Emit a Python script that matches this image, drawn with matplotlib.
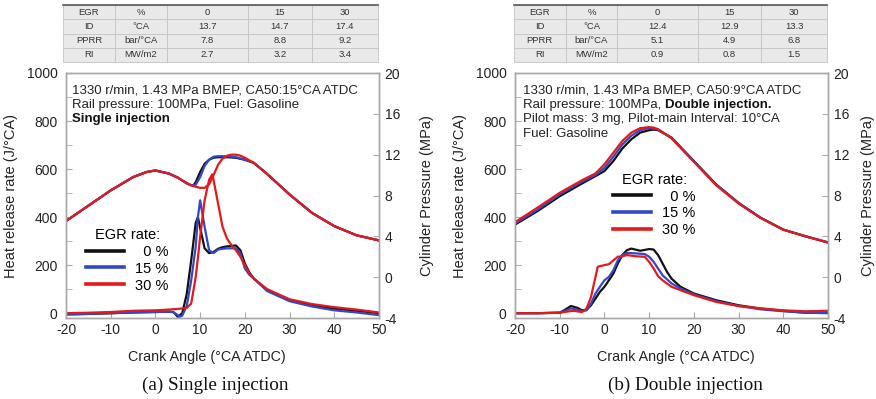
import matplotlib
matplotlib.use("Agg")
import matplotlib.pyplot as plt
from matplotlib.ticker import MultipleLocator

plt.rcParams['font.family'] = ['Liberation Sans', 'DejaVu Sans']
plt.rcParams['axes.unicode_minus'] = False

egr_labels = ['  0 %', '15 %', '30 %']
colors = ['#111111', '#3347c8', '#e3191c']

# tables above each panel
table_a = [['EGR', '%', '0', '15', '30'],
           ['ID', '°CA', '13.7', '14.7', '17.4'],
           ['PPRR', 'bar/°CA', '7.8', '8.8', '9.2'],
           ['RI', 'MW/m2', '2.7', '3.2', '3.4']]
table_b = [['EGR', '%', '0', '15', '30'],
           ['ID', '°CA', '12.4', '12.9', '13.3'],
           ['PPRR', 'bar/°CA', '5.1', '4.9', '6.8'],
           ['RI', 'MW/m2', '0.9', '0.8', '1.5']]

## (a) single injection - heat release rate
a_hrr_x0 = [-20, -15, -10, -5, 0, 3, 4, 5, 6, 7, 8, 9, 9.5, 10, 11, 12, 13, 14, 15, 16, 17, 18, 19, 20, 21, 22, 25, 30, 35, 40, 45, 50]
a_hrr_0 = [-5, -3, 0, 3, 5, 6, 5, -15, 0, 80, 220, 375, 400, 355, 270, 250, 255, 268, 275, 278, 280, 282, 262, 207, 170, 144, 96, 54, 33, 19, 10, 0]
a_hrr_x15 = [-20, -15, -10, -5, 0, 3, 4, 5, 5.5, 6, 7, 8, 9, 9.5, 10, 11, 12, 13, 14, 15, 16, 17, 18, 19, 20, 21, 22, 25, 30, 35, 40, 45, 50]
a_hrr_15 = [-5, -3, 0, 3, 5, 6, 4, -8, -15, -10, 30, 137, 276, 400, 470, 360, 262, 250, 265, 268, 270, 270, 270, 249, 186, 160, 144, 92, 50, 28, 12, 3, -8]
a_hrr_x30 = [-20, -15, -10, -5, 0, 3, 5, 6, 7, 8, 9, 9.5, 10, 11, 12, 12.7, 13, 14, 15, 16, 17, 18, 19, 20, 21, 22, 25, 30, 35, 40, 45, 50]
a_hrr_30 = [0, 2, 5, 10, 12, 15, 18, 20, 22, 40, 150, 230, 318, 470, 555, 578, 555, 457, 360, 311, 283, 262, 235, 200, 165, 144, 100, 58, 38, 25, 15, 3]

## (a) single injection - cylinder pressure
a_p_x0 = [-20, -15, -10, -5, -2, 0, 3, 5, 7, 8, 8.5, 9, 10, 11, 12, 13, 14, 16, 18, 20, 22, 25, 30, 35, 40, 45, 50]
a_p_0 = [5.5, 7.0, 8.5, 9.8, 10.3, 10.45, 10.15, 9.75, 9.2, 9.0, 9.0, 9.3, 10.3, 11.1, 11.5, 11.7, 11.75, 11.75, 11.7, 11.5, 11.2, 10.1, 8.1, 6.3, 5.0, 4.1, 3.6]
a_p_x15 = [-20, -15, -10, -5, -2, 0, 3, 5, 7, 8, 9, 10, 11, 12, 13, 14, 16, 18, 20, 22, 25, 30, 35, 40, 45, 50]
a_p_15 = [5.5, 7.0, 8.5, 9.8, 10.3, 10.45, 10.15, 9.75, 9.2, 9.0, 9.05, 9.8, 10.9, 11.5, 11.8, 11.85, 11.85, 11.75, 11.5, 11.2, 10.1, 8.1, 6.3, 5.0, 4.1, 3.6]
a_p_x30 = [-20, -15, -10, -5, -2, 0, 3, 5, 7, 8, 9, 10, 11, 12, 13, 14, 15, 16, 17, 18, 19, 20, 22, 25, 30, 35, 40, 45, 50]
a_p_30 = [5.5, 7.0, 8.5, 9.8, 10.3, 10.45, 10.15, 9.75, 9.2, 9.0, 8.85, 8.75, 8.75, 9.1, 10.0, 11.0, 11.6, 11.9, 12.0, 12.0, 11.9, 11.7, 11.2, 10.1, 8.1, 6.3, 5.0, 4.1, 3.6]

## (b) double injection - heat release rate
b_hrr_x0 = [-20, -15, -10, -9, -7.5, -6, -5, -4, -3, -2, -1, 0, 1, 2, 3, 4, 5, 6, 8, 10, 11, 12, 13, 14, 15, 17, 20, 25, 30, 35, 40, 45, 50]
b_hrr_0 = [0, 0, 2, 12, 30, 22, 12, 14, 33, 61, 89, 110, 137, 165, 207, 242, 262, 269, 260, 267, 265, 242, 207, 172, 144, 110, 82, 54, 33, 19, 10, 2, 2]
b_hrr_x15 = [-20, -15, -10, -9, -7.5, -6, -5, -4, -3, -2, -1, 0, 1, 2, 3, 4, 5, 7, 9, 10, 11, 12, 13, 15, 17, 20, 25, 30, 35, 40, 45, 50]
b_hrr_15 = [0, 0, 2, 8, 20, 15, 8, 12, 40, 82, 110, 137, 151, 179, 220, 242, 251, 249, 246, 235, 214, 186, 158, 124, 103, 78, 50, 30, 16, 8, 2, 0]
b_hrr_x30 = [-20, -15, -10, -9, -7, -5, -4, -3, -2, -1.5, -1, 0, 1, 2, 3, 4, 5, 7, 9, 10, 11, 12, 13, 15, 18, 20, 25, 30, 35, 40, 45, 50]
b_hrr_30 = [0, 0, 2, 5, 10, 5, 19, 68, 151, 193, 196, 200, 204, 220, 235, 237, 242, 237, 235, 214, 186, 154, 137, 110, 89, 75, 47, 30, 20, 12, 8, 10]

## (b) double injection - cylinder pressure
b_p_x = [-20, -15, -10, -5, -2, 0, 2, 4, 6, 8, 10, 11, 12, 15, 20, 25, 30, 35, 40, 45, 50]
b_p_0 = [5.15, 6.46, 7.93, 9.18, 9.9, 10.39, 11.38, 12.6, 13.5, 14.16, 14.4, 14.45, 14.4, 13.67, 11.38, 9.08, 7.28, 5.8, 4.66, 4.0, 3.4]
b_p_15 = [5.25, 6.6, 8.1, 9.35, 10.0, 10.7, 11.8, 13.0, 13.85, 14.4, 14.6, 14.55, 14.45, 13.65, 11.35, 9.05, 7.25, 5.8, 4.66, 4.0, 3.4]
b_p_30 = [5.38, 6.8, 8.26, 9.5, 10.16, 11.05, 12.2, 13.34, 14.16, 14.6, 14.7, 14.65, 14.5, 13.6, 11.3, 9.0, 7.22, 5.78, 4.64, 4.0, 3.4]


fig = plt.figure(figsize=(8.76, 3.99), dpi=100)

def make_table(rect, rows):
    tax = fig.add_axes(rect)
    tax.axis('off')
    tb = tax.table(cellText=rows, cellLoc='center', bbox=[0, 0, 1, 1],
                   colWidths=[52, 52, 81, 64, 66])
    tb.auto_set_font_size(False)
    tb.set_fontsize(6.8)
    for (r, c), cell in tb.get_celld().items():
        cell.set_facecolor('#e9e9e9')
        cell.set_edgecolor('#c4c4c4')
        cell.set_linewidth(0.6)
        cell.get_text().set_color('#333333')
    tax.plot([0, 1], [1, 1], color='#555555', lw=1.2, transform=tax.transAxes, clip_on=False)

def panel(rect, hrr, pres, xlab_x, ylab2_x):
    ax = fig.add_axes(rect)
    ax2 = ax.twinx()
    lines = []
    for (x, y), c, lab in zip(hrr, colors, egr_labels):
        ln, = ax.plot(x, y, color=c, lw=1.6, label=lab)
        lines.append(ln)
    for (x, y), c in zip(pres, colors):
        ax2.plot(x, y, color=c, lw=1.6)
    ax.set_xlim(-20, 50)
    ax.set_ylim(-20, 1000)
    ax2.set_ylim(-4, 20)
    ax.xaxis.set_major_locator(MultipleLocator(10))
    ax.yaxis.set_major_locator(MultipleLocator(200))
    ax.yaxis.set_minor_locator(MultipleLocator(100))
    ax2.yaxis.set_major_locator(MultipleLocator(4))
    for a in (ax, ax2):
        for s in a.spines.values():
            s.set_color('#a8a8a8')
            s.set_linewidth(1.0)
        a.tick_params(which='both', direction='in', length=4, color='#a8a8a8',
                      labelsize=10, labelcolor='#222222')
    ax.tick_params(axis='y', pad=6)
    ax2.tick_params(axis='y', pad=4)
    ax.set_xlabel('Crank Angle (°CA ATDC)', fontsize=10.3, color='#222222')
    ax.xaxis.set_label_coords(xlab_x, -0.13)
    ax.set_ylabel('Heat release rate (J/°CA)', fontsize=10.5, color='#222222')
    ax.yaxis.set_label_coords(-0.153, 0.5)
    ax2.set_ylabel('Cylinder Pressure (MPa)', fontsize=10.5, color='#222222')
    ax2.yaxis.set_label_coords(ylab2_x, 0.5)
    return ax, ax2, lines

# panel (a)
make_table([63 / 876, 1 - 62 / 399, 315 / 876, 57 / 399], table_a)
ax_a, ax_a2, lines_a = panel([66 / 876, 1 - 318 / 399, 313 / 876, 245 / 399],
                             [(a_hrr_x0, a_hrr_0), (a_hrr_x15, a_hrr_15), (a_hrr_x30, a_hrr_30)],
                             [(a_p_x0, a_p_0), (a_p_x15, a_p_15), (a_p_x30, a_p_30)], 0.45, 1.131)
fs = 9.5
ax_a.text(0.02, 0.955, '1330 r/min, 1.43 MPa BMEP, CA50:15°CA ATDC', transform=ax_a.transAxes,
          fontsize=fs, va='top', color='#222222')
ax_a.text(0.02, 0.895, 'Rail pressure: 100MPa, Fuel: Gasoline', transform=ax_a.transAxes,
          fontsize=fs, va='top', color='#222222')
ax_a.text(0.02, 0.835, 'Single injection', transform=ax_a.transAxes,
          fontsize=fs, va='top', fontweight='bold', color='#111111')
leg = ax_a.legend(handles=lines_a, title='EGR rate:', loc='upper left',
                  bbox_to_anchor=(0.03, 0.41), frameon=False, fontsize=10.5,
                  title_fontsize=10.5, handlelength=2.6, labelspacing=0.2,
                  handletextpad=0.8, borderpad=0.2)
for h in leg.get_lines():
    h.set_linewidth(2.6)

# panel (b)
make_table([514 / 876, 1 - 62 / 399, 313 / 876, 57 / 399], table_b)
ax_b, ax_b2, lines_b = panel([515 / 876, 1 - 318 / 399, 313 / 876, 245 / 399],
                             [(b_hrr_x0, b_hrr_0), (b_hrr_x15, b_hrr_15), (b_hrr_x30, b_hrr_30)],
                             [(b_p_x, b_p_0), (b_p_x, b_p_15), (b_p_x, b_p_30)], 0.514, 1.105)
ax_b.text(0.025, 0.955, '1330 r/min, 1.43 MPa BMEP, CA50:9°CA ATDC', transform=ax_b.transAxes,
          fontsize=fs, va='top', color='#222222')
t = ax_b.text(0.025, 0.895, 'Rail pressure: 100MPa, ', transform=ax_b.transAxes,
              fontsize=fs, va='top', color='#222222')
ax_b.annotate('Double injection.', xy=(1, 0), xycoords=t, va='bottom', ha='left',
              fontsize=fs, fontweight='bold', color='#111111')
ax_b.text(0.025, 0.835, 'Pilot mass: 3 mg, Pilot-main Interval: 10°CA', transform=ax_b.transAxes,
          fontsize=fs, va='top', color='#222222')
ax_b.text(0.025, 0.775, 'Fuel: Gasoline', transform=ax_b.transAxes,
          fontsize=fs, va='top', color='#222222')
leg = ax_b.legend(handles=lines_b, title='EGR rate:', loc='upper left',
                  bbox_to_anchor=(0.28, 0.635), frameon=False, fontsize=10.5,
                  title_fontsize=10.5, handlelength=2.6, labelspacing=0.2,
                  handletextpad=0.8, borderpad=0.2)
for h in leg.get_lines():
    h.set_linewidth(2.6)

fig.text(215 / 876, 1 - 385 / 399, '(a) Single injection', family='Liberation Serif',
         fontsize=13.8, ha='center', va='center', color='#111111')
fig.text(685 / 876, 1 - 385 / 399, '(b) Double injection', family='Liberation Serif',
         fontsize=13.8, ha='center', va='center', color='#111111')

fig.savefig('out.png', dpi=100)
